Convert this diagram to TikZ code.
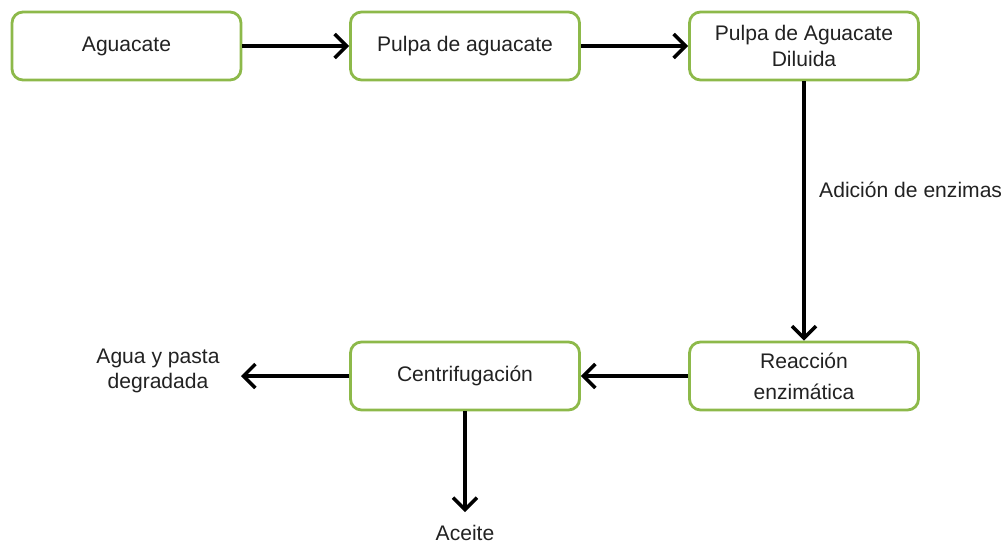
\documentclass[tikz,border=0pt]{standalone}
\usepackage{fontspec}
\setmainfont{Liberation Sans}
\usepackage{tikz}
\usetikzlibrary{shapes,positioning,calc}
\usetikzlibrary{arrows.meta}
\definecolor{verde}{RGB}{141,185,74}
\definecolor{testo}{RGB}{34,34,34}
\tikzstyle{paso} = [rectangle, rounded corners=0.22cm, minimum width=4.58cm, minimum height=1.36cm, text centered, align=center, draw=verde, line width=1.6pt, text=testo, font=\fontsize{12}{14.5}\selectfont]
\tikzstyle{salida} = [text=testo, align=center, font=\fontsize{12}{14.5}\selectfont]
\tikzstyle{flecha} = [line width=2pt,-{Straight Barb[length=2.4mm,width=4.8mm,line width=2pt]}]

\begin{document}
\begin{tikzpicture}
\useasboundingbox (0,0) rectangle (20.12,-10.88);
\node (agu) at (2.53,-0.92) [paso] {Aguacate};
\node (pul) at (9.30,-0.92) [paso] {Pulpa de aguacate};
\node (dil) at (16.08,-0.92) [paso] {Pulpa de Aguacate\\Diluida};
\node (rea) at (16.08,-7.52) [paso] {Reacción\\[3pt]enzimática};
\node (cen) at (9.30,-7.52) [paso] {Centrifugación};
\node (agp) at (3.16,-7.42) [salida] {Agua y pasta\\degradada};
\node (ace) at (9.30,-10.66) [salida] {Aceite};
\node[salida, anchor=west] (adi) at (16.26,-3.80) {Adición de enzimas};
\coordinate (agpe) at (4.82,-7.52);
\coordinate (acen) at (9.30,-10.24);
\draw[flecha] (agu) -- (pul);
\draw[flecha] (pul) -- (dil);
\draw[flecha] (dil) -- (rea);
\draw[flecha] (rea) -- (cen);
\draw[flecha] (cen) -- (agpe);
\draw[flecha] (cen) -- (acen);
\end{tikzpicture}
\end{document}
